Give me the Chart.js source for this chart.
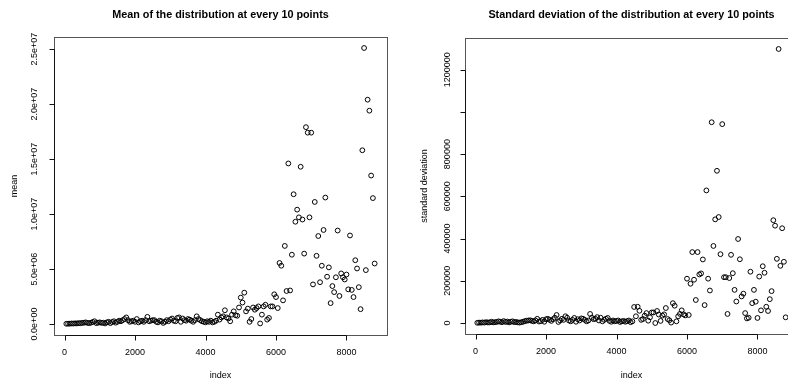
<!DOCTYPE html>
<html>
<head>
<meta charset="utf-8">
<script src="https://cdn.jsdelivr.net/npm/chart.js@4.4.1/dist/chart.umd.min.js"></script>
<style>
  html, body { margin: 0; padding: 0; background: #fff; overflow: hidden; }
  body { width: 788px; height: 383px; position: relative; }
  #meanBox { position: absolute; left: 0; top: 0; width: 394px; height: 383px; }
  #sdBox { position: absolute; left: 394px; top: 0; width: 411px; height: 383px; }
</style>
</head>
<body>
<div id="meanBox"><canvas id="meanChart" width="394" height="383"></canvas></div>
<div id="sdBox"><canvas id="sdChart" width="411" height="383"></canvas></div>
<script>
// index of each summary point
const indexes = [
  50, 100, 150, 200, 250, 300, 350, 400, 450, 500,
  550, 600, 650, 700, 750, 800, 850, 900, 950, 1000,
  1050, 1100, 1150, 1200, 1250, 1300, 1350, 1400, 1450, 1500,
  1550, 1600, 1650, 1700, 1750, 1800, 1850, 1900, 1950, 2000,
  2050, 2100, 2150, 2200, 2250, 2300, 2350, 2400, 2450, 2500,
  2550, 2600, 2650, 2700, 2750, 2800, 2850, 2900, 2950, 3000,
  3050, 3100, 3150, 3200, 3250, 3300, 3350, 3400, 3450, 3500,
  3550, 3600, 3650, 3700, 3750, 3800, 3850, 3900, 3950, 4000,
  4050, 4100, 4150, 4200, 4250, 4300, 4350, 4400, 4450, 4500,
  4550, 4600, 4650, 4700, 4750, 4800, 4850, 4900, 4950, 5000,
  5050, 5100, 5150, 5200, 5250, 5300, 5350, 5400, 5450, 5500,
  5550, 5600, 5650, 5700, 5750, 5800, 5850, 5900, 5950, 6000,
  6050, 6100, 6150, 6200, 6250, 6300, 6350, 6400, 6450, 6500,
  6550, 6600, 6650, 6700, 6750, 6800, 6850, 6900, 6950, 7000,
  7050, 7100, 7150, 7200, 7250, 7300, 7350, 7400, 7450, 7500,
  7550, 7600, 7650, 7700, 7750, 7800, 7850, 7900, 7950, 8000,
  8050, 8100, 8150, 8200, 8250, 8300, 8350, 8400, 8450, 8500,
  8550, 8600, 8650, 8700, 8750, 8800
];

// mean, in millions
const meanM = [
  0.02, 0.03, 0.03, 0.05, 0.04, 0.06, 0.05, 0.08, 0.07, 0.10,
  0.12, 0.15, 0.10, 0.08, 0.12, 0.18, 0.25, 0.08, 0.12, 0.15,
  0.10, 0.12, 0.05, 0.15, 0.20, 0.08, 0.18, 0.25, 0.12, 0.20,
  0.30, 0.25, 0.35, 0.45, 0.60, 0.35, 0.20, 0.25, 0.30, 0.20,
  0.45, 0.15, 0.25, 0.30, 0.20, 0.35, 0.65, 0.25, 0.30, 0.35,
  0.35, 0.20, 0.15, 0.30, 0.25, 0.10, 0.20, 0.35, 0.25, 0.40,
  0.50, 0.30, 0.25, 0.55, 0.60, 0.20, 0.50, 0.35, 0.30, 0.45,
  0.40, 0.30, 0.20, 0.35, 0.70, 0.45, 0.35, 0.25, 0.20, 0.15,
  0.25, 0.20, 0.30, 0.15, 0.20, 0.30, 0.85, 0.40, 0.60, 0.70,
  1.25, 0.60, 0.50, 0.25, 0.85, 1.15, 0.80, 0.75, 1.50, 2.40,
  1.95, 2.85, 1.15, 1.40, 0.20, 0.45, 1.50, 1.30, 1.45, 1.60,
  0.05, 0.85, 1.60, 1.75, 0.40, 0.55, 1.60, 1.60, 2.70, 2.45,
  1.45, 5.55, 5.30, 2.15, 7.10, 3.00, 14.6, 3.05, 6.30, 11.8,
  9.30, 10.4, 9.70, 14.3, 9.50, 6.40, 17.9, 17.4, 9.70, 17.4,
  3.60, 11.1, 6.20, 8.00, 3.80, 5.30, 8.55, 11.5, 4.30, 5.15,
  1.90, 3.45, 2.90, 4.25, 8.50, 2.55, 4.60, 4.25, 4.05, 4.50,
  3.15, 8.05, 3.10, 2.45, 5.80, 5.05, 3.35, 1.35, 15.8, 25.1,
  4.90, 20.4, 19.4, 13.5, 11.45, 5.50
];

// standard deviation, in thousands
const sdK = [
  1, 2, 1.5, 3, 2, 4, 2.5, 3, 6, 3,
  4, 5, 8, 6, 4, 9, 5, 7, 3, 6,
  8, 4, 5, 3, 2, 4, 6, 9, 11, 12,
  13, 10, 8, 12, 20, 7, 9, 15, 6, 18,
  20, 15, 10, 18, 25, 38, 5, 12, 20, 15,
  32, 25, 12, 8, 15, 24, 6, 18, 12, 22,
  20, 15, 8, 12, 43, 25, 18, 20, 28, 12,
  25, 8, 15, 20, 24, 10, 6, 12, 8, 10,
  12, 5, 8, 10, 6, 9, 12, 4, 8, 76,
  32, 77, 58, 15, 19, 35, 47, 11, 27, 50,
  50, 0, 57, 40, 10, 35, 41, 71, 19, 13,
  2, 94, 82, 8, 32, 43, 60, 41, 36, 210,
  38, 186, 336, 205, 109, 336, 230, 235, 301, 85,
  628, 210, 154, 951, 365, 491, 721, 502, 326, 942,
  217, 217, 43, 213, 323, 236, 157, 102, 398, 302,
  126, 139, 47, 22, 25, 243, 94, 157, 101, 24,
  220, 60, 269, 238, 77, 57, 113, 151, 487, 461,
  304, 1298, 271, 449, 290, 27
];

const xTicks = [0, 2000, 4000, 6000, 8000];
const meanTicks = [0, 5e6, 1e7, 1.5e7, 2e7, 2.5e7];
const meanTickLabels = ['0.0e+00', '5.0e+06', '1.0e+07', '1.5e+07', '2.0e+07', '2.5e+07'];
const sdTicks = [0, 200000, 400000, 600000, 800000, 1000000, 1200000];
const sdTickLabels = ['0', '200000', '400000', '600000', '800000', '', '1200000'];

Chart.defaults.font.family = '"Liberation Sans", Arial, sans-serif';
Chart.defaults.font.size = 9;
Chart.defaults.color = '#000';

// R style frame: box, axis lines along the box between first and last tick, outward ticks, main title
const rFrame = {
  id: 'rFrame',
  afterDraw(chart, args, opts) {
    const ctx = chart.ctx;
    const a = chart.chartArea;
    const xs = chart.scales.x;
    const ys = chart.scales.y;
    const L = Math.round(a.left) + 0.5, R = Math.round(a.right) + 0.5;
    const T = Math.round(a.top) + 0.5, B = Math.round(a.bottom) + 0.5;
    ctx.save();
    ctx.lineWidth = 1;
    ctx.strokeStyle = '#555';
    ctx.strokeRect(L, T, R - L, B - T);

    ctx.strokeStyle = '#111';
    ctx.beginPath();
    const xp = xs.ticks.map(t => Math.round(xs.getPixelForValue(t.value)) + 0.5);
    ctx.moveTo(xp[0], B); ctx.lineTo(xp[xp.length - 1], B);
    xp.forEach(p => { ctx.moveTo(p, B); ctx.lineTo(p, B + 5); });
    const yp = ys.ticks.map(t => Math.round(ys.getPixelForValue(t.value)) + 0.5);
    ctx.moveTo(L, yp[0]); ctx.lineTo(L, yp[yp.length - 1]);
    yp.forEach(p => { ctx.moveTo(L, p); ctx.lineTo(L - 5, p); });
    ctx.stroke();

    ctx.fillStyle = '#000';
    ctx.font = 'bold 10.8px "Liberation Sans", Arial, sans-serif';
    ctx.textAlign = 'center';
    ctx.textBaseline = 'middle';
    ctx.fillText(opts.title, (a.left + a.right) / 2, 15);
    ctx.restore();
  }
};

function makeChart(id, values, cfg) {
  const points = indexes.map((x, i) => ({ x: x, y: values[i] }));
  return new Chart(document.getElementById(id), {
    type: 'scatter',
    data: {
      datasets: [{
        data: points,
        pointStyle: 'circle',
        pointRadius: 2.4,
        pointBorderWidth: 1,
        pointBorderColor: '#000',
        pointBackgroundColor: 'rgba(0,0,0,0)'
      }]
    },
    options: {
      responsive: false,
      animation: false,
      layout: { padding: { left: 0, right: 7, top: cfg.top, bottom: 0 } },
      plugins: {
        legend: { display: false },
        tooltip: { enabled: false },
        rFrame: { title: cfg.title }
      },
      scales: {
        x: {
          type: 'linear',
          min: -300,
          max: 9150,
          afterBuildTicks: s => { s.ticks = xTicks.map(v => ({ value: v })); },
          afterFit: s => { s.height = cfg.xH; },
          grid: { display: false, drawTicks: false },
          border: { display: false },
          ticks: { padding: 12, autoSkip: false, maxRotation: 0, callback: v => String(v) },
          title: { display: true, text: 'index', padding: { top: 0, bottom: 1.6 } }
        },
        y: {
          type: 'linear',
          min: cfg.yMin,
          max: cfg.yMax,
          afterBuildTicks: s => { s.ticks = cfg.yTicks.map(v => ({ value: v })); },
          afterFit: s => { s.width = cfg.yW; },
          grid: { display: false, drawTicks: false },
          border: { display: false },
          ticks: {
            minRotation: 90, maxRotation: 90, crossAlign: 'center', autoSkip: false,
            padding: cfg.yPad,
            callback: (v, i) => cfg.yLabels[i]
          },
          title: { display: true, text: cfg.yTitle, padding: { top: cfg.yTitlePad, bottom: 0 } }
        }
      }
    },
    plugins: [rFrame]
  });
}

makeChart('meanChart', meanM.map(v => v * 1e6), {
  title: 'Mean of the distribution at every 10 points',
  top: 37, xH: 48, yW: 54, yPad: 2.6, yTitlePad: 9.6,
  yMin: -1.0e6, yMax: 2.61e7,
  yTicks: meanTicks, yLabels: meanTickLabels, yTitle: 'mean'
});

makeChart('sdChart', sdK.map(v => v * 1000), {
  title: 'Standard deviation of the distribution at every 10 points',
  top: 38, xH: 49, yW: 71, yPad: 0, yTitlePad: 25.6,
  yMin: -52000, yMax: 1350000,
  yTicks: sdTicks, yLabels: sdTickLabels, yTitle: 'standard deviation'
});
</script>
</body>
</html>
